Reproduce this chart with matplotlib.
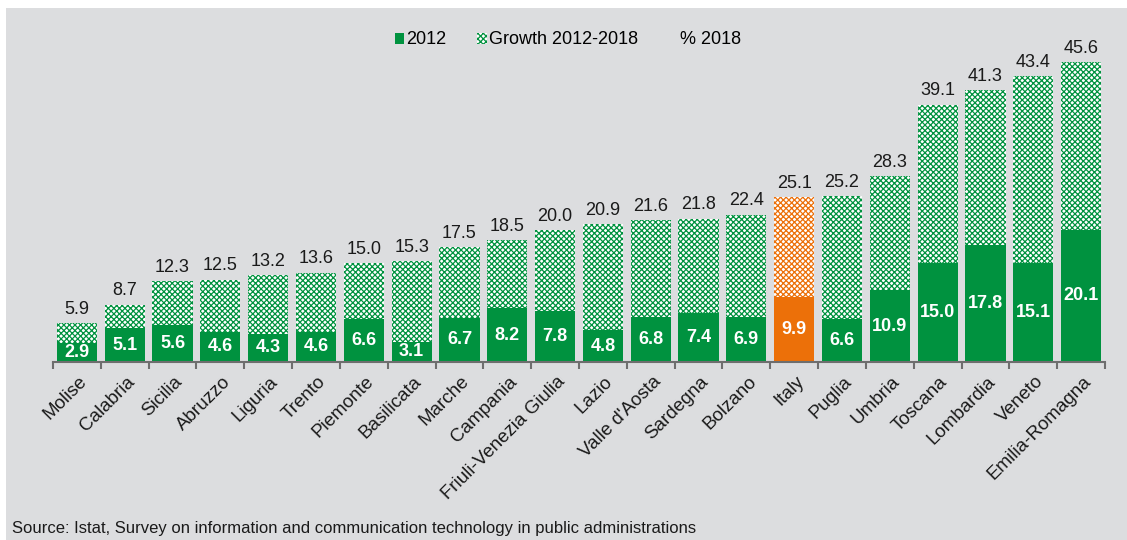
import numpy as np
import matplotlib.pyplot as plt
from matplotlib.patches import Patch, Rectangle
from matplotlib.lines import Line2D

plt.rcParams['font.family'] = ['Liberation Sans', 'DejaVu Sans']
plt.rcParams['hatch.linewidth'] = 0.9

regions = ["Molise", "Calabria", "Sicilia", "Abruzzo", "Liguria", "Trento", "Piemonte",
           "Basilicata", "Marche", "Campania", "Friuli-Venezia Giulia", "Lazio",
           "Valle d'Aosta", "Sardegna", "Bolzano", "Italy", "Puglia", "Umbria",
           "Toscana", "Lombardia", "Veneto", "Emilia-Romagna"]
val_2012 = [2.9, 5.1, 5.6, 4.6, 4.3, 4.6, 6.6, 3.1, 6.7, 8.2, 7.8, 4.8, 6.8, 7.4, 6.9,
            9.9, 6.6, 10.9, 15.0, 17.8, 15.1, 20.1]
val_2018 = [5.9, 8.7, 12.3, 12.5, 13.2, 13.6, 15.0, 15.3, 17.5, 18.5, 20.0, 20.9, 21.6,
            21.8, 22.4, 25.1, 25.2, 28.3, 39.1, 41.3, 43.4, 45.6]

green = '#00923f'
orange = '#ec7009'
bg = '#dcdddf'

x = np.arange(len(regions))
base = np.array(val_2012)
growth = np.array(val_2018) - base
colors = [orange if r == "Italy" else green for r in regions]

fig = plt.figure(figsize=(11.27, 5.4), dpi=100, facecolor='white')
# grey panel with a thin white margin at top and left
fig.patches.append(Rectangle((6 / 1127, 0), 1, 1 - 8 / 540, transform=fig.transFigure,
                             facecolor=bg, edgecolor='none', zorder=-10))
ax = fig.add_axes([53 / 1127, 178 / 540, 1052 / 1127, 329 / 540])
ax.set_facecolor('none')

w = 0.84
ax.bar(x, base, width=w, color=colors, linewidth=0, zorder=2)
for xi, b, g, c in zip(x, base, growth, colors):
    ax.bar(xi, g, bottom=b, width=w, facecolor='white', edgecolor=c,
           hatch='xxxxxx', linewidth=0, zorder=2)

for xi, b, t in zip(x, val_2012, val_2018):
    ax.text(xi, b / 2, f"{b:.1f}", ha='center', va='center', color='white',
            fontsize=13, fontweight='bold', zorder=3)
    ax.text(xi, t + 0.8, f"{t:.1f}", ha='center', va='bottom', color='#1a1a1a',
            fontsize=13, zorder=3)

ax.set_xlim(-0.5, len(regions) - 0.5)
ax.set_ylim(0, 50)
for s in ['top', 'right', 'left']:
    ax.spines[s].set_visible(False)
ax.spines['bottom'].set_color('#6e6e6e')
ax.spines['bottom'].set_linewidth(1.5)
ax.set_yticks([])
ax.set_xticks(np.arange(len(regions) + 1) - 0.5)
ax.set_xticklabels([])
ax.tick_params(axis='x', length=5, width=1.5, color='#6e6e6e', direction='out')
for xi, name in zip(x, regions):
    ax.annotate(name, xy=(xi, 0), xytext=(1, -8), textcoords='offset points',
                ha='right', va='top', rotation=45, rotation_mode='anchor',
                fontsize=13.5, color='#1a1a1a', annotation_clip=False)

handles = [Patch(facecolor=green, edgecolor=green, linewidth=0),
           Patch(facecolor='white', edgecolor=green, hatch='xxxxxx', linewidth=0),
           Line2D([], [], linestyle='none')]
ax.legend(handles, ["2012", "Growth 2012-2018", "% 2018"], loc='center',
          bbox_to_anchor=(568 / 1127, 1 - 40 / 540), bbox_transform=fig.transFigure,
          ncol=3, frameon=False, fontsize=13, handlelength=0.55, handleheight=0.55,
          handletextpad=0.1, columnspacing=1.7)

fig.text(12 / 1127, 1 - 529 / 540, "Source: Istat, Survey on information and communication technology in public administrations",
         ha='left', va='center', fontsize=12, color='#1a1a1a')

fig.savefig('out.png', dpi=100, facecolor=fig.get_facecolor())
